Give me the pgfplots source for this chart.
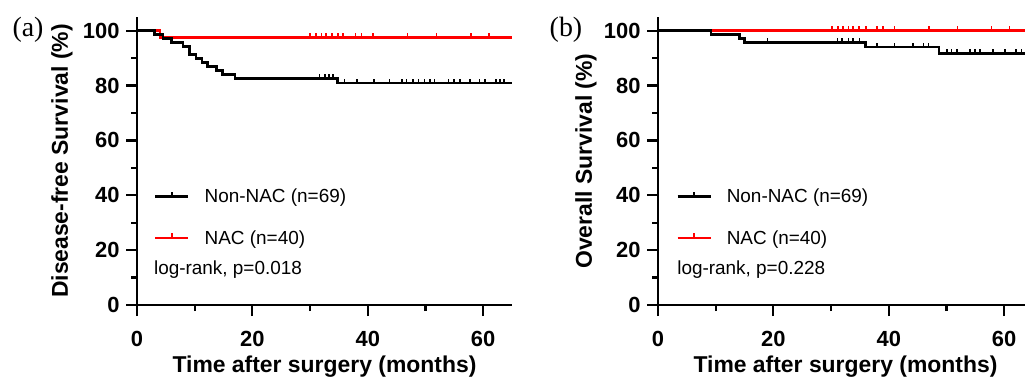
\documentclass[border=0pt]{standalone}
\usepackage{fontspec}
\setmainfont{Liberation Sans}
\newfontfamily\tnr{Liberation Serif}
\usepackage{pgfplots}
\pgfplotsset{compat=1.18}

\definecolor{kmred}{RGB}{255,0,0}

\pgfdeclareplotmark{cens}{%
  \pgfpathmoveto{\pgfpointorigin}%
  \pgfpathlineto{\pgfpoint{0pt}{4.5bp}}%
  \pgfusepathqstroke}

\pgfplotsset{
  kmaxis/.style={
    scale only axis, width=375bp, height=288bp,
    xmin=0, xmax=65, ymin=0, ymax=105,
    axis lines=left, axis line style={line width=2.4bp, -},
    xtick={0,20,40,60}, minor xtick={10,30,50},
    ytick={0,20,40,60,80,100}, minor ytick={10,30,50,70,90},
    tick align=outside, major tick length=11bp, minor tick length=6bp,
    tick style={black, line width=2.2bp},
    tick label style={font=\bfseries\fontsize{22}{22}\selectfont},
    xticklabel style={yshift=-12bp},
    yticklabel style={xshift=-3bp},
    /pgf/number format/assume math mode=true,
    label style={font=\bfseries\fontsize{23}{23}\selectfont},
    xlabel={Time after surgery (months)},
    xlabel style={at={(axis description cs:0.5,-0.214)}, anchor=center, inner sep=0pt},
    clip=false,
    legend cell align=left,
    legend style={draw=none, fill=none, anchor=north west, inner sep=0pt,
      font=\fontsize{19}{19}\selectfont, row sep=22bp,
      nodes={inner sep=2bp},
      /tikz/every odd column/.append style={column sep=13bp}},
  },
  kmline/.style={const plot, line width=2.6bp, mark=none},
  kmcens/.style={only marks, mark=cens, mark options={line width=1.6bp}},
  kmlegend/.style={legend image code/.code={%
      \draw[##1, line width=2.6bp] (0bp,0bp) -- (33bp,0bp);
      \draw[##1, line width=1.6bp] (16.5bp,0bp) -- (16.5bp,4.5bp);}},
}

\begin{document}
\begin{tikzpicture}
\useasboundingbox (0,0) rectangle (1025bp,380bp);
\clip (0,0) rectangle (1025bp,380bp);

% ---------------- Panel (a) ----------------
\begin{axis}[kmaxis, at={(137bp,75bp)}, anchor=south west,
  ylabel={Disease-free Survival (\%)},
  ylabel style={at={(axis description cs:-0.2,0.5)}, anchor=center},
  legend style={at={(axis description cs:0.045,0.41)}}]
\addlegendimage{black, kmlegend}
\addlegendentry{Non-NAC (n=69)}
\addlegendimage{kmred, kmlegend}
\addlegendentry{NAC (n=40)}
% NAC
\addplot[kmline, kmred, forget plot] coordinates {
 (0,100) (4.0,97.5) (65,97.5)};
\addplot[kmcens, kmred, forget plot] coordinates {
 (30.0,97.5) (31.0,97.5) (32.0,97.5) (32.8,97.5) (33.8,97.5) (34.8,97.5)
 (35.7,97.5) (37.9,97.5) (38.9,97.5) (40.9,97.5) (46.9,97.5) (51.9,97.5)
 (57.9,97.5) (61.0,97.5)};
% Non-NAC
\addplot[kmline, black, forget plot] coordinates {
 (0,100) (3.0,98.55) (4.5,97.10) (6.0,95.65) (8.0,94.20) (9.1,91.30)
 (10.2,89.86) (11.3,88.41) (12.2,86.96) (13.8,85.51) (14.8,84.06)
 (17.0,82.61) (34.8,80.89) (65,80.89)};
\addplot[kmcens, black, forget plot] coordinates {
 (31.6,82.61) (32.6,82.61) (33.3,82.61) (34.0,82.61)
 (36.0,80.89) (38.1,80.89) (41.1,80.89) (43.8,80.89) (45.9,80.89)
 (46.7,80.89) (47.8,80.89) (48.8,80.89) (49.8,80.89) (50.8,80.89)
 (51.6,80.89) (54.0,80.89) (54.9,80.89) (56.0,80.89) (57.7,80.89)
 (59.4,80.89) (60.3,80.89) (62.2,80.89) (62.9,80.89) (63.6,80.89)};
\node[anchor=west, font=\fontsize{19}{19}\selectfont, inner sep=0pt]
  at (axis description cs:0.045,0.1215) {log-rank, p=0.018};
\end{axis}

% ---------------- Panel (b) ----------------
\begin{axis}[kmaxis, at={(658bp,75bp)}, anchor=south west,
  ylabel={Overall Survival (\%)},
  ylabel style={at={(axis description cs:-0.192,0.5)}, anchor=center},
  legend style={at={(axis description cs:0.048,0.41)}}]
\addlegendimage{black, kmlegend}
\addlegendentry{Non-NAC (n=69)}
\addlegendimage{kmred, kmlegend}
\addlegendentry{NAC (n=40)}
% NAC
\addplot[kmline, kmred, forget plot] coordinates {
 (0,100) (65,100)};
\addplot[kmcens, kmred, forget plot] coordinates {
 (30.2,100) (31.2,100) (32.1,100) (33.0,100) (33.8,100) (34.8,100)
 (36.0,100) (38.0,100) (39.0,100) (41.0,100) (47.0,100) (51.9,100)
 (57.8,100) (60.9,100)};
% Non-NAC
\addplot[kmline, black, forget plot] coordinates {
 (0,100) (9.2,98.55) (14.1,97.10) (15.0,95.65) (36.0,94.0) (48.7,91.6) (65,91.6)};
\addplot[kmcens, black, forget plot] coordinates {
 (19.0,95.65) (31.1,95.65) (31.9,95.65) (33.0,95.65) (33.8,95.65) (34.9,95.65)
 (38.0,94.0) (41.0,94.0) (44.2,94.0) (46.0,94.0) (46.9,94.0)
 (50.1,91.6) (50.9,91.6) (51.8,91.6) (54.1,91.6) (54.9,91.6) (55.8,91.6)
 (58.1,91.6) (60.1,91.6) (62.1,91.6) (63.0,91.6)};
\node[anchor=west, font=\fontsize{19}{19}\selectfont, inner sep=0pt]
  at (axis description cs:0.051,0.1215) {log-rank, p=0.228};
\end{axis}

\node[font=\tnr\fontsize{28}{28}\selectfont] at (28bp,350bp) {(a)};
\node[font=\tnr\fontsize{28}{28}\selectfont] at (566bp,350bp) {(b)};
\end{tikzpicture}
\end{document}
